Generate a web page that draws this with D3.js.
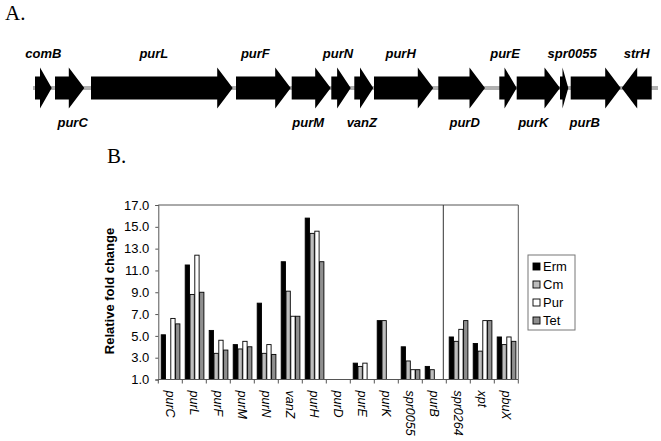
<!DOCTYPE html>
<html><head><meta charset="utf-8">
<script src="https://cdn.jsdelivr.net/npm/d3@7"></script>
<style>body{margin:0;background:#fff}svg{display:block}</style>
</head><body>
<svg id="c" width="661" height="441"></svg>
<script>
// ---- Gene map data (position units along the locus) ----
const geneNames  = ["comB","purC","purL","purF","purM","purN","vanZ","purH","purD","purE","purK","spr0055","purB","strH"];
const geneStart  = [2, 22, 58, 203, 258.7, 298.3, 321.3, 341, 405.3, 466.3, 483.7, 527, 537.7, 588.7];
const geneEnd    = [18.7, 51.3, 199.7, 257.7, 297.7, 317.7, 340.3, 400.3, 452, 483.7, 527, 535.3, 587.7, 618.7];
const geneStrand = [1,1,1,1,1,1,1,1,1,1,1,1,1,-1];
const geneLabelAbove = [true,false,true,true,false,true,false,true,false,true,false,true,false,true];
const locusExtent = [0, 625];

// ---- Bar chart data ----
const categories = ["purC","purL","purF","purM","purN","vanZ","purH","purD","purE","purK","spr0055","purB","spr0264","xpt","pbuX"];
const seriesNames = ["Erm","Cm","Pur","Tet"];
const ermValues = [5.1, 11.5, 5.5, 4.2, 8.0, 11.8, 15.8, null, 2.5, 6.4, 4.0, 2.2, 4.9, 4.3, 4.9];
const cmValues  = [null, 8.8, 3.4, 3.8, 3.4, 9.1, 14.4, null, 2.2, 6.4, 2.7, 1.9, 4.5, 3.6, 4.2];
const purValues = [6.6, 12.4, 4.6, 4.5, 4.2, 6.8, 14.6, null, 2.5, null, 1.9, null, 5.6, 6.4, 4.9];
const tetValues = [6.1, 9.0, 3.7, 4.0, 3.3, 6.8, 11.8, null, null, null, 1.9, null, 6.4, 6.4, 4.5];
const yTicks = [1,3,5,7,9,11,13,15,17];
const seriesColors = ["#000000","#bdbdbd","#ffffff","#8f8f8f"];

const svg = d3.select("#c");
const FONT = "Liberation Sans, Arial, Helvetica, sans-serif";

// ---------- Panel A ----------
svg.append("text").attr("x",5).attr("y",20).attr("font-family","Liberation Serif, Times New Roman, serif")
  .attr("font-size",21).text("A.");

const gx = d3.scaleLinear().domain(locusExtent).range([33, 658]);
const lineY = 88;
svg.append("line").attr("x1",gx(locusExtent[0])).attr("x2",gx(locusExtent[1]))
  .attr("y1",lineY).attr("y2",lineY).attr("stroke","#b0b0b0").attr("stroke-width",4);

const bodyH = 11.5, headH = 20.5;
function arrowPath(i){
  const a = gx(geneStart[i]), b = gx(geneEnd[i]);
  const len = b - a;
  const head = Math.min(15.5, len*0.7);
  if (geneStrand[i] > 0){
    const hb = b - head;
    return `M${a},${lineY-bodyH}L${hb},${lineY-bodyH}L${hb},${lineY-headH}L${b},${lineY}L${hb},${lineY+headH}L${hb},${lineY+bodyH}L${a},${lineY+bodyH}Z`;
  } else {
    const hb = a + head;
    return `M${b},${lineY-bodyH}L${hb},${lineY-bodyH}L${hb},${lineY-headH}L${a},${lineY}L${hb},${lineY+headH}L${hb},${lineY+bodyH}L${b},${lineY+bodyH}Z`;
  }
}
const genes = d3.range(geneNames.length);
svg.append("g").selectAll("path").data(genes).join("path")
  .attr("d", i=>arrowPath(i)).attr("fill","#000");
const labelOffsets = {comB:0, purC:3, purL:-8, purF:-8, purM:-3, purN:-3, vanZ:-2, purH:-3, purD:3, purE:-3, purK:-5, spr0055:8, purB:-11, strH:0};
svg.append("g").selectAll("text").data(genes).join("text")
  .attr("x", i => (gx(geneStart[i])+gx(geneEnd[i]))/2 + labelOffsets[geneNames[i]])
  .attr("y", i => geneLabelAbove[i] ? 58 : 127)
  .attr("text-anchor","middle").attr("font-family",FONT).attr("font-size",13)
  .attr("font-weight","bold").attr("font-style","italic").text(i=>geneNames[i]);

// ---------- Panel B ----------
svg.append("text").attr("x",107).attr("y",163).attr("font-family","Liberation Serif, Times New Roman, serif")
  .attr("font-size",21).text("B.");

const x = d3.scaleBand().domain(categories).range([158.3, 518.3]).paddingInner(0).paddingOuter(0);
const xs = d3.scaleBand().domain(seriesNames).range([x.bandwidth()*0.1, x.bandwidth()*0.9]);
const y = d3.scaleLinear().domain([1,17]).range([379.5, 205]);
const color = d3.scaleOrdinal().domain(seriesNames).range(seriesColors);
const allSeries = [ermValues, cmValues, purValues, tetValues];

const bars = [];
categories.forEach((c,ci)=>{
  seriesNames.forEach((s,si)=>{
    const v = allSeries[si][ci];
    if (v != null) bars.push({c, s, v});
  });
});

svg.append("g").selectAll("rect").data(bars).join("rect")
  .attr("x", d=>x(d.c)+xs(d.s)+0.5)
  .attr("y", d=>y(d.v))
  .attr("width", xs.bandwidth()-0.5)
  .attr("height", d=>y(1)-y(d.v))
  .attr("fill", d=>color(d.s))
  .attr("stroke","#000").attr("stroke-width",0.9);

// frame
const axisColor = "#555";
const [x0,x1] = x.range();
svg.append("line").attr("x1",x0).attr("x2",x1).attr("y1",y(17)).attr("y2",y(17)).attr("stroke",axisColor);
svg.append("line").attr("x1",x1).attr("x2",x1).attr("y1",y(17)).attr("y2",y(1)).attr("stroke",axisColor);
// separator
const sepX = x("spr0264") - 3;
svg.append("line").attr("x1",sepX).attr("x2",sepX).attr("y1",y(17)).attr("y2",y(1)).attr("stroke","#333");

// y axis
const yAxis = svg.append("g").attr("transform",`translate(${x0},0)`)
  .call(d3.axisLeft(y).tickValues(yTicks).tickFormat(d3.format(".1f")).tickSize(3).tickPadding(6));
yAxis.select(".domain").attr("stroke",axisColor);
yAxis.selectAll(".tick line").attr("stroke",axisColor);
yAxis.selectAll("text").attr("font-family",FONT).attr("font-size",13).attr("fill","#000");

// x axis (ticks at category boundaries)
const xAxisG = svg.append("g").attr("transform",`translate(0,${y(1)})`);
xAxisG.append("line").attr("x1",x0).attr("x2",x1).attr("stroke",axisColor);
xAxisG.selectAll("line.t").data(categories.concat(["__end"])).join("line").attr("class","t")
  .attr("x1",(d,i)=>x0+i*x.bandwidth()).attr("x2",(d,i)=>x0+i*x.bandwidth())
  .attr("y1",0).attr("y2",4).attr("stroke",axisColor);
xAxisG.selectAll("text").data(categories).join("text")
  .attr("transform", d=>`translate(${x(d)+x.bandwidth()/2-1},11) rotate(90)`)
  .attr("dominant-baseline","middle")
  .attr("font-family",FONT).attr("font-size",12.5).attr("font-style","italic").text(d=>d);

// y title
svg.append("text").attr("transform",`translate(114,291) rotate(-90)`)
  .attr("text-anchor","middle").attr("font-family",FONT).attr("font-size",13).attr("font-weight","bold")
  .text("Relative fold change");

// legend
const lg = svg.append("g").attr("transform","translate(528,255)");
lg.append("rect").attr("width",47).attr("height",75).attr("fill","#fff").attr("stroke","#777");
seriesNames.forEach((s,i)=>{
  lg.append("rect").attr("x",5).attr("y",8+i*18).attr("width",7).attr("height",7)
    .attr("fill",color(s)).attr("stroke","#000").attr("stroke-width",0.9);
  lg.append("text").attr("x",15).attr("y",16+i*18).attr("font-family",FONT).attr("font-size",13).text(s);
});
</script>
</body></html>
